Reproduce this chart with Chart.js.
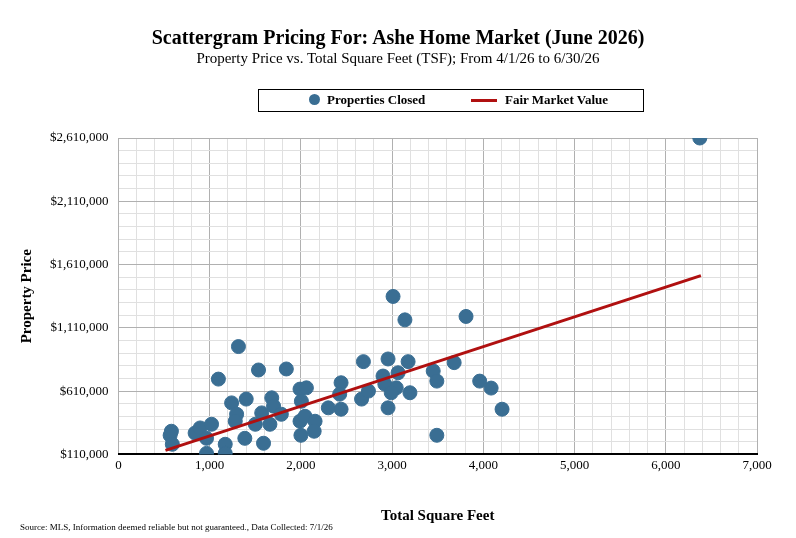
<!DOCTYPE html>
<html><head><meta charset="utf-8">
<script src="https://cdn.jsdelivr.net/npm/chart.js@4/dist/chart.umd.min.js"></script>
<style>
body{margin:0;background:#fff;font-family:"Liberation Serif",serif;}
#wrap{position:relative;width:796px;height:538px;}
canvas{position:absolute;left:0;top:0;}
.t1{position:absolute;top:26px;width:100%;text-align:center;font-weight:bold;font-size:20px;}
.t2{position:absolute;top:50px;width:100%;text-align:center;font-size:15px;}
.leg{position:absolute;left:258px;top:89px;width:384px;height:21px;border:1px solid #000;font-size:13px;font-weight:bold;}
.src{position:absolute;left:20px;top:522px;font-size:9px;}
</style></head><body>
<div id="wrap">
<canvas id="c" width="796" height="538"></canvas>
<div class="t1">Scattergram Pricing For: Ashe Home Market (June 2026)</div>
<div class="t2">Property Price vs. Total Square Feet (TSF); From 4/1/26 to 6/30/26</div>
<div class="leg">
 <span style="position:absolute;left:50px;top:4px;width:11px;height:11px;border-radius:50%;background:#3a6e93"></span>
 <span style="position:absolute;left:68px;top:2px;">Properties Closed</span>
 <span style="position:absolute;left:212px;top:9px;width:26px;height:3px;background:#b01010"></span>
 <span style="position:absolute;left:246px;top:2px;">Fair Market Value</span>
</div>
<div class="src">Source: MLS, Information deemed reliable but not guaranteed., Data Collected: 7/1/26</div>
</div>
<script>
const sqft=[566,580,590,840,895,1020,965,965,1170,1170,1095,1315,1240,1295,1280,1400,1385,1535,1500,1570,1590,1660,1680,1700,1785,1840,1990,2060,2005,1990,2045,2000,2155,2145,2300,2440,2425,2440,2685,2665,2740,2955,2900,2920,2955,3010,3140,3065,3175,3045,3195,2990,3450,3490,3490,3680,3810,3960,4085,4205,6373];
const price=[261000,293000,190000,279000,319000,348000,237000,118000,190000,118000,705000,962000,517000,427000,372000,547000,237000,777000,348000,438000,198000,348000,557000,491000,427000,785000,626000,636000,530000,372000,411000,261000,372000,293000,478000,676000,586000,467000,843000,547000,610000,864000,729000,665000,478000,1358000,1173000,755000,843000,636000,597000,597000,769000,689000,261000,835000,1200000,689000,634000,467000,2610000];
const fmvX=[515,6385];
const fmvY=[142000,1523000];
const serif='"Liberation Serif", serif';
new Chart(document.getElementById('c'),{
 data:{datasets:[
  {type:'line',data:fmvX.map((x,i)=>({x,y:fmvY[i]})),borderColor:'#b01010',borderWidth:3,pointRadius:0,order:0},
  {type:'scatter',data:sqft.map((x,i)=>({x,y:price[i]})),backgroundColor:'#3a6e93',borderColor:'#3a6e93',pointRadius:7,order:1}
 ]},
 options:{responsive:false,animation:false,
  layout:{padding:{top:138,right:39,left:14,bottom:9}},
  plugins:{legend:{display:false},tooltip:{enabled:false}},
  scales:{
   x:{type:'linear',min:0,max:7000,
     ticks:{stepSize:200,autoSkip:false,maxRotation:0,color:'#000',font:{family:serif,size:13},
       callback:v=>v%1000===0?v.toLocaleString('en-US'):''},
     grid:{color:c=>c.tick&&c.tick.value%1000===0?'#b0b0b0':'#e0e0e0',drawTicks:false},
     border:{color:'#000',width:2},
     title:{display:true,text:'Total Square Feet',color:'#000',font:{family:serif,size:15,weight:'bold'},padding:{top:31}}},
   y:{min:110000,max:2610000,
     ticks:{stepSize:100000,autoSkip:false,color:'#000',font:{family:serif,size:13},padding:10,
       callback:v=>(v-110000)%500000===0?'$'+v.toLocaleString('en-US'):''},
     grid:{color:c=>c.tick&&(c.tick.value-110000)%500000===0?'#b0b0b0':'#e0e0e0',drawTicks:false},
     border:{display:false},
     title:{display:true,text:'Property Price',color:'#000',font:{family:serif,size:15,weight:'bold'}}}
  }}
});
</script>
</body></html>
